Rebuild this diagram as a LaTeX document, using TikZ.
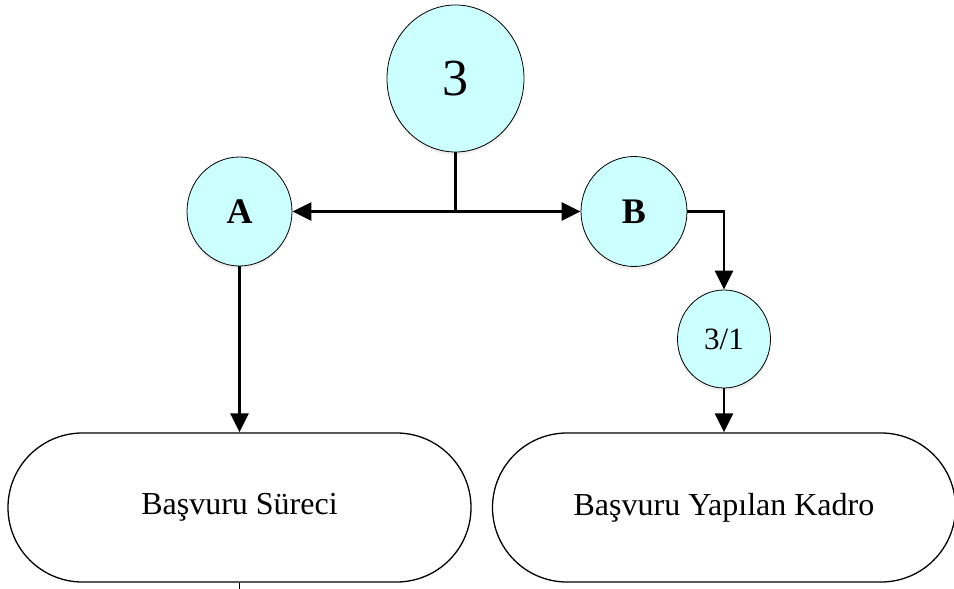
\documentclass[tikz,border=0pt]{standalone}
\usepackage{fontspec}
\setmainfont{Liberation Serif}
\usetikzlibrary{arrows.meta,shapes.geometric,shapes.misc,shadows}
\definecolor{bubble}{HTML}{CCFFFF}
\begin{document}
\begin{tikzpicture}[x=1pt,y=-1pt,
  bubblenode/.style={ellipse,draw=black,line width=0.8pt,fill=bubble,inner sep=0pt,
    drop shadow={opacity=0.12,shadow xshift=0pt,shadow yshift=-3pt}},
  termbox/.style={rounded rectangle,draw=black,line width=1.3pt,fill=white,
    minimum width=463pt,minimum height=149pt,inner sep=0pt,font=\fontsize{32}{36}\selectfont},
  link/.style={line width=2.6pt,draw=black},
  arr/.style={link,-{Triangle[length=19pt,width=18pt]}}]
\useasboundingbox (0,0) rectangle (954,589);

% circles
\node[bubblenode,minimum width=137pt,minimum height=147pt,font=\fontsize{52}{54}\selectfont] (n3) at (455.5,78.5) {3};
\node[bubblenode,minimum width=105pt,minimum height=109pt,font=\fontsize{36}{38}\selectfont\bfseries] (A) at (239.5,211.5) {A};
\node[bubblenode,minimum width=106pt,minimum height=110pt,font=\fontsize{36}{38}\selectfont\bfseries] (B) at (634,211.5) {B};
\node[bubblenode,minimum width=93pt,minimum height=98pt,font=\fontsize{31}{33}\selectfont] (n31) at (724,339) {3/1};

% terminal boxes
\node[termbox] (surec) at (239.5,507.5) {Başvuru Süreci};
\node[termbox] (kadro) at (724,507.5) {Başvuru Yapılan Kadro};

% connectors
\coordinate (split) at (n3.south |- A.east);
\draw[link] (n3.south) -- (split);
\draw[arr] (split) -- (A.east);
\draw[arr] (split) -- (B.west);
\draw[arr] (B.east) -| (n31.north);
\draw[arr] (n31.south) -- (kadro.north);
\draw[arr] (A.south) -- (surec.north);
\coordinate (tail) at (239.5,589);
\draw[line width=1.6pt] (surec.south) -- (tail);
\end{tikzpicture}
\end{document}
